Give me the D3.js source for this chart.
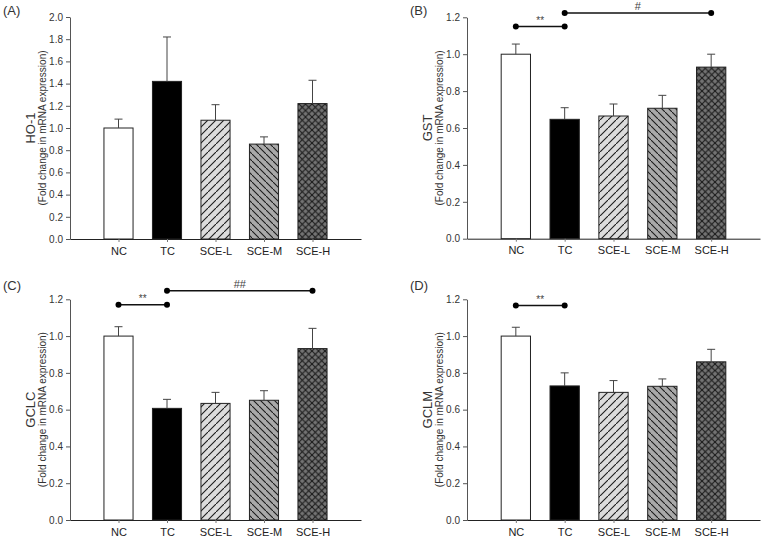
<!DOCTYPE HTML>
<html>
<head>
  <meta http-equiv="Content-Type" content="text/html; charset=UTF-8" />
  <script src="https://d3js.org/d3.v7.min.js"></script>
  <style>
    body { margin: 0; background: #fff; }
    svg { display: block; background-color: #fff; }
    text { font-family: "Liberation Sans", Arial, sans-serif; fill: #333; }
  </style>
</head>
<body>
<svg width="763" height="543"></svg>
<script>
  // groups on the x axis
  var groups = ["NC", "TC", "SCE-L", "SCE-M", "SCE-H"];

  // means and error tops
  var ho1Mean = [1.0, 1.42, 1.07, 0.855, 1.22];
  var ho1Err  = [1.08, 1.82, 1.21, 0.92, 1.43];
  var gstMean = [1.0, 0.647, 0.665, 0.707, 0.93];
  var gstErr  = [1.055, 0.71, 0.73, 0.777, 1.0];
  var gclcMean = [1.0, 0.607, 0.634, 0.651, 0.932];
  var gclcErr  = [1.051, 0.656, 0.694, 0.703, 1.042];
  var gclmMean = [1.0, 0.729, 0.694, 0.727, 0.86];
  var gclmErr  = [1.048, 0.8, 0.758, 0.767, 0.928];

  var ho1Ticks = [0, 0.2, 0.4, 0.6, 0.8, 1.0, 1.2, 1.4, 1.6, 1.8, 2.0];
  var smallTicks = [0, 0.2, 0.4, 0.6, 0.8, 1.0, 1.2];

  // significance brackets: [from index, to index, y value, label]
  var gstSig = [[0, 1, 1.15, "**"], [1, 4, 1.223, "#"]];
  var gclcSig = [[0, 1, 1.171, "**"], [1, 4, 1.247, "##"]];
  var gclmSig = [[0, 1, 1.166, "**"]];

  var svg = d3.select("svg");
  var defs = svg.append("defs");

  // hatch fills
  function hatch(id, bg, size, dirs) {
    var p = defs.append("pattern").attr("id", id)
      .attr("patternUnits", "userSpaceOnUse")
      .attr("width", size).attr("height", size);
    p.append("rect").attr("width", size).attr("height", size).attr("fill", bg);
    dirs.forEach(function(d) {
      var pts = d === "/" ? [[-1, size + 1], [size + 1, -1]] : [[-1, -1], [size + 1, size + 1]];
      p.append("line")
        .attr("x1", pts[0][0]).attr("y1", pts[0][1])
        .attr("x2", pts[1][0]).attr("y2", pts[1][1])
        .attr("stroke", "#1a1a1a").attr("stroke-width", 1.1);
    });
  }
  hatch("hL", "#dcdcdc", 8, ["/"]);
  hatch("hM", "#a9a9a9", 7, ["\\"]);
  hatch("hH", "#737373", 6.5, ["/", "\\"]);

  var fills = ["#ffffff", "#000000", "url(#hL)", "url(#hM)", "url(#hH)"];

  var panels = [
    {tag: "(A)", name: "HO-1", mean: ho1Mean, err: ho1Err, ticks: ho1Ticks, max: 2.0, sig: [],
     x0: 70, x1: 361, top: 17, bot: 239, tx: 3, ty: 10},
    {tag: "(B)", name: "GST", mean: gstMean, err: gstErr, ticks: smallTicks, max: 1.2, sig: gstSig,
     x0: 467, x1: 760, top: 17.3, bot: 238.7, tx: 410, ty: 10},
    {tag: "(C)", name: "GCLC", mean: gclcMean, err: gclcErr, ticks: smallTicks, max: 1.2, sig: gclcSig,
     x0: 70, x1: 361, top: 299.3, bot: 520, tx: 3, ty: 285},
    {tag: "(D)", name: "GCLM", mean: gclmMean, err: gclmErr, ticks: smallTicks, max: 1.2, sig: gclmSig,
     x0: 467, x1: 760, top: 299.3, bot: 520, tx: 410, ty: 285}
  ];

  panels.forEach(function(p) {
    var g = svg.append("g");
    var x = d3.scaleLinear().domain([0, 6]).range([p.x0, p.x1]);
    var y = d3.scaleLinear().domain([0, p.max]).range([p.bot, p.top]);
    var bw = x(0.6) - x(0);

    g.append("text").attr("x", p.tx).attr("y", p.ty)
      .attr("dominant-baseline", "central")
      .style("font-size", "13px").text(p.tag);

    // bars
    g.selectAll("rect.bar").data(p.mean).enter().append("rect")
      .attr("class", "bar")
      .attr("x", function(d, i) { return x(i + 1) - bw / 2; })
      .attr("y", function(d) { return y(d); })
      .attr("width", bw)
      .attr("height", function(d) { return y(0) - y(d); })
      .attr("fill", function(d, i) { return fills[i]; })
      .attr("stroke", "#222").attr("stroke-width", 1);

    // error bars (upper only)
    p.err.forEach(function(e, i) {
      var cx = x(i + 1);
      g.append("line").attr("x1", cx).attr("x2", cx)
        .attr("y1", y(p.mean[i])).attr("y2", y(e))
        .attr("stroke", "#444").attr("stroke-width", 1);
      g.append("line").attr("x1", cx - 4).attr("x2", cx + 4)
        .attr("y1", y(e)).attr("y2", y(e))
        .attr("stroke", "#444").attr("stroke-width", 1);
    });

    // y axis
    var ya = g.append("g").attr("transform", "translate(" + p.x0 + ",0)")
      .call(d3.axisLeft(y).tickValues(p.ticks).tickFormat(d3.format(".1f"))
        .tickSize(4).tickPadding(3).tickSizeOuter(0));
    ya.select(".domain").attr("stroke", "#555");
    ya.selectAll(".tick line").attr("stroke", "#555");
    ya.selectAll("text").style("font-size", "10px").style("fill", "#333");

    // x axis
    var xa = g.append("g").attr("transform", "translate(0," + p.bot + ")")
      .call(d3.axisBottom(x).tickValues([1, 2, 3, 4, 5])
        .tickFormat(function(d) { return groups[d - 1]; })
        .tickSize(3).tickPadding(5).tickSizeOuter(0));
    xa.select(".domain").attr("stroke", "#222");
    xa.selectAll(".tick line").attr("stroke", "#777");
    xa.selectAll("text").style("font-size", "11px").style("fill", "#222");

    // y labels (baseline sits on the right side once rotated)
    var my = (p.top + p.bot) / 2;
    g.append("text")
      .attr("transform", "translate(" + (p.x0 - 35) + "," + my + ") rotate(-90)")
      .attr("text-anchor", "middle")
      .style("font-size", "13px").text(p.name);
    g.append("text")
      .attr("transform", "translate(" + (p.x0 - 24) + "," + my + ") rotate(-90)")
      .attr("text-anchor", "middle")
      .style("font-size", "10px").text("(Fold change in mRNA expression)");

    // significance brackets
    p.sig.forEach(function(s) {
      var xa1 = x(s[0] + 1), xa2 = x(s[1] + 1), yy = y(s[2]);
      g.append("line").attr("x1", xa1).attr("x2", xa2).attr("y1", yy).attr("y2", yy)
        .attr("stroke", "#111").attr("stroke-width", 1.5);
      [xa1, xa2].forEach(function(cx) {
        g.append("circle").attr("cx", cx).attr("cy", yy).attr("r", 3).attr("fill", "#000");
      });
      g.append("text").attr("x", (xa1 + xa2) / 2).attr("y", yy - 3)
        .attr("text-anchor", "middle")
        .style("font-size", s[3] === "**" ? "10px" : "11px").style("fill", "#444")
        .text(s[3]);
    });
  });
</script>
</body>
</html>
